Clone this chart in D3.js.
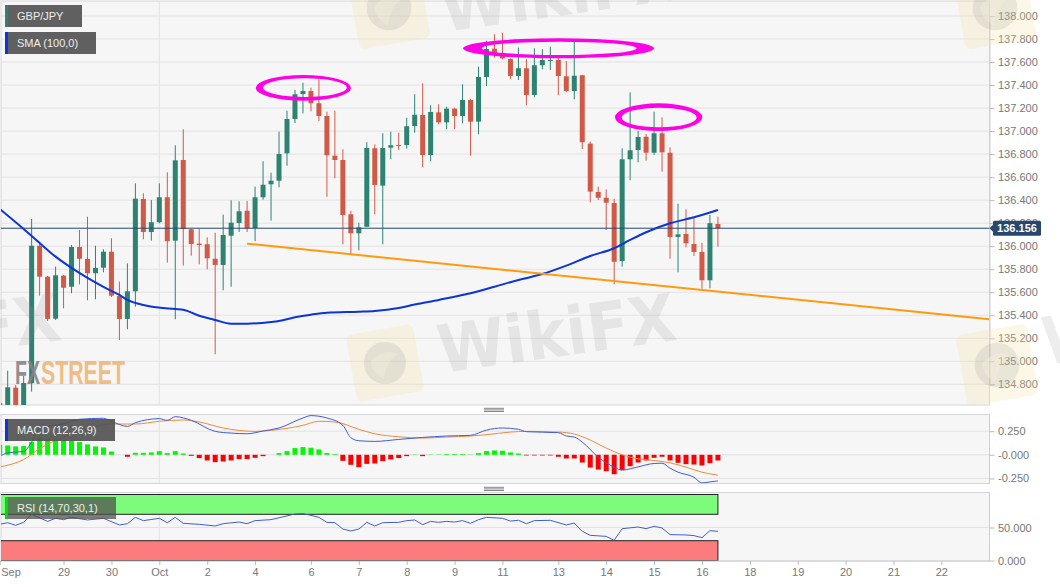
<!DOCTYPE html>
<html><head><meta charset="utf-8">
<script src="https://cdn.jsdelivr.net/npm/d3@7/dist/d3.min.js"></script>
<style>
html,body{margin:0;padding:0;background:#fff}
svg{display:block;font-family:"Liberation Sans",Arial,sans-serif}
</style></head><body><div id="chart"></div>
<script>
// candle colour is derived from open/close; columns are one entry per candle
const opens=[134.638,134.40,134.771,134.45,134.809,136.004,135.735,135.370,135.744,135.648,135.993,135.889,135.765,135.813,135.952,135.567,135.368,135.608,136.41,136.123,136.208,136.425,136.048,136.749,136.147,136.022,136.017,135.891,135.837,136.091,136.202,136.308,136.158,136.425,136.538,136.569,136.807,137.105,137.322,137.348,137.242,137.131,136.786,136.749,136.277,136.112,136.169,136.851,136.526,136.856,136.879,136.879,137.044,137.14,136.792,137.163,137.076,137.195,137.131,137.27,137.082,137.47,137.716,137.655,137.626,137.479,137.546,137.314,137.572,137.612,137.618,137.476,137.348,137.485,136.891,136.471,136.421,136.375,135.871,136.755,136.836,136.951,136.812,136.981,136.812,136.08,136.106,136.019,135.95,135.704,136.193];
const highs=[134.66,134.918,134.794,134.872,136.236,136.039,135.74,135.822,135.75,136.01,136.141,136.256,136.004,135.973,136.069,135.692,135.851,136.546,136.46,136.401,136.546,136.642,136.877,137.016,136.15,136.149,136.077,136.117,136.274,136.399,136.39,136.393,136.517,136.738,136.639,136.995,137.177,137.357,137.42,137.377,137.45,137.169,137.177,136.842,136.308,136.204,136.903,136.884,136.981,136.995,136.986,137.116,137.32,137.415,137.224,137.233,137.212,137.203,137.407,137.28,137.56,137.785,137.841,137.855,137.632,137.725,137.626,137.719,137.711,137.733,137.646,137.609,137.777,137.49,136.908,136.517,136.494,136.413,136.851,137.337,137.001,136.975,137.169,137.12,136.859,136.369,136.321,136.251,136.03,136.271,136.256];
const lows=[134.4,134.3,134.3,134.35,134.736,135.57,135.35,135.359,135.46,135.591,135.669,135.53,135.539,135.773,135.559,135.185,135.278,135.474,136.06,136.048,136.199,135.857,135.365,135.831,135.917,135.843,135.799,135.061,135.617,135.648,136.123,136.123,136.043,136.404,136.222,136.512,136.699,137.07,137.155,137.172,137.088,136.43,136.59,136.017,135.924,135.964,136.167,136.277,136.017,136.755,136.836,136.847,136.986,136.686,136.738,137.059,137.016,137.016,137.068,136.786,136.972,137.392,137.638,137.624,137.45,137.444,137.224,137.294,137.537,137.531,137.311,137.337,137.276,136.844,136.381,136.401,136.141,135.669,135.822,136.573,136.729,136.743,136.792,136.647,135.891,135.773,135.99,135.915,135.631,135.634,135.996];
const closes=[134.5,134.774,134.45,134.811,136.004,135.735,135.368,135.747,135.639,135.993,135.891,135.765,135.811,135.952,135.57,135.368,135.608,136.413,136.123,136.208,136.425,136.043,136.746,136.149,136.019,136.01,135.895,135.837,136.097,136.204,136.303,136.156,136.425,136.534,136.569,136.801,137.105,137.32,137.348,137.242,137.131,136.790,136.749,136.271,136.112,136.164,136.853,136.532,136.853,136.877,136.871,137.042,137.142,136.792,137.166,137.076,137.195,137.131,137.27,137.082,137.47,137.713,137.676,137.632,137.479,137.546,137.314,137.572,137.618,137.618,137.479,137.348,137.481,136.903,136.474,136.421,136.378,135.865,136.755,136.833,136.949,136.812,136.981,136.816,136.08,136.103,136.025,135.95,135.704,136.2,136.156];
const lastPrice=136.156;
const smaIndex=[0,3,5,7,9,11,13,15,16,18,22,23,25,27,29,31,34,35,37,39,41,45,47,50,52,55,59,62,65,68,71,74,77,79,81,84,87,90];
const smaValues=[136.323,136.149,136.028,135.909,135.811,135.724,135.646,135.576,135.533,135.489,135.454,135.448,135.396,135.359,135.327,135.327,135.341,135.35,135.382,135.405,135.422,135.431,135.437,135.463,135.493,135.533,135.591,135.648,135.706,135.758,135.831,135.915,135.982,136.054,136.121,136.199,136.251,136.315];
const trendIndex=[31,124];
const trendValues=[136.022,135.365];
const ringNames=["left","top","right"];
const ringOuterIndex=[[32.08,44.02],[58.05,82.0],[77.1,88.04]];
const ringOuterPrice=[[137.487,137.264],[137.806,137.632],[137.241,137.001]];
const ringInnerIndex=[[32.99,43.5],[60.4,79.8],[77.94,87.34]];
const ringInnerPrice=[[137.459,137.296],[137.777,137.661],[137.203,137.033]];
const priceTicks=[134.8,135,135.2,135.4,135.6,135.8,136,136.2,136.4,136.6,136.8,137,137.2,137.4,137.6,137.8,138];
const macdHist=[.106,.099,.089,.092,.135,.181,.17,.163,.16,.153,.135,.11,.089,.078,.035,0,-.021,.021,.021,.025,.039,.018,.039,.014,-.011,-.035,-.06,-.078,-.071,-.06,-.046,-.046,-.032,-.014,0,.018,.039,.071,.082,.075,.057,.018,.007,-.064,-.106,-.131,-.096,-.092,-.067,-.05,-.035,-.014,.003,-.014,.003,.003,.007,.007,.007,.003,.018,.039,.046,.043,.025,.014,-.007,-.007,-.007,-.007,-.021,-.039,-.039,-.082,-.135,-.156,-.174,-.206,-.16,-.121,-.082,-.06,-.032,-.021,-.06,-.085,-.099,-.103,-.113,-.089,-.06];
const macdIndex=[0,1,3,4,5,8,10,13,14,16,17,20,21,22,24,27,29,31,33,35,38,39,41,43,44,45,47,50,53,56,59,61,63,65,66,70,71,72,73,75,77,78,79,80,82,83,84,85,87,88,89,90];
const macdValues=[-.018,.021,.035,.135,.277,.33,.376,.387,.355,.301,.34,.383,.365,.404,.365,.248,.23,.223,.252,.284,.39,.415,.39,.312,.181,.149,.142,.163,.184,.199,.206,.262,.284,.27,.245,.234,.199,.188,.135,-.025,-.131,-.163,-.149,-.128,-.092,-.089,-.142,-.184,-.238,-.298,-.287,-.277];
const signalIndex=[0,3,5,8,10,13,14,17,20,23,25,28,32,34,38,40,42,45,47,50,53,56,59,61,64,66,70,72,74,76,78,80,82,84,86,88,90];
const signalValues=[-.128,-.05,.064,.188,.248,.319,.326,.326,.355,.369,.348,.284,.248,.259,.312,.355,.348,.27,.223,.191,.177,.188,.199,.213,.241,.248,.241,.22,.156,.071,0,-.043,-.06,-.085,-.131,-.184,-.216];
const macdTicks=[-.25,0,.25];
const macdTickLabels=["-0.250","-0.000","0.250"];
const rsiIndex=[0,1,2,3,4,6,7,8,9,11,13,15,16,17,18,20,21,22,23,25,27,28,30,31,32,34,37,38,39,40,41,42,43,44,45,46,47,48,50,51,52,53,54,55,56,57,58,59,60,61,63,64,65,66,67,69,71,72,73,74,76,77,78,80,81,82,83,84,86,87,88,89,90];
const rsiValues=[54.8,57.3,53.3,57.8,70,59.3,63.9,61.9,65.4,61.4,63.9,53.8,55.8,65.4,60.4,63.9,57.3,65.4,56.3,54.8,52.3,55.8,58.3,55.8,60.4,61.9,70.5,71,68.4,65.4,57.8,57.3,47.7,44.7,47.7,57.8,52.3,57.3,57.8,60.4,61.4,54.3,59.3,57.8,59.3,58.3,60.4,56.3,61.9,65.4,63.9,59.8,60.9,55.8,60.4,60.9,53.8,56.8,44.2,38.1,36.6,30.6,48.2,50.8,48.2,51.8,49.3,39.2,38.7,37.7,34.6,45.2,44.2];
const rsiTicks=[0,50];
const rsiTickLabels=["0.000","50.000"];
const rsiBands=[[70,100],[0,30]];
const dateIndex=[0,8,14,20,26,32,39,45,51,57,63,70,76,82,88,94,100,106,112,118];
const dateLabels=["Sep","29","30","Oct","2","4","6","7","8","9","11","13","14","15","16","18","19","20","21","22"];
const monthLineIndex=[20];
const legendMain=["GBP/JPY","SMA (100,0)"];
const legendMacd="MACD (12,26,9)";
const legendRsi="RSI (14,70,30,1)";

const W=1060,H=587,axisX=989.5;
const GREEN="#2e8370",RED="#d15a47",NAVY="#27476f",GRID="#e2e2e4",PANEL="#f6f6f7",TXT="#777";
const x=d3.scaleLinear().domain([0,124]).range([-0.28,989.24]);
const y=d3.scaleLinear().domain([134.8,138]).range([384.3,16]);
const yM=d3.scaleLinear().domain([-.25,.25]).range([478.4,431.2]);
const yR=d3.scaleLinear().domain([0,100]).range([560.5,494.5]);
const panels=[{id:"p",t:1,b:405},{id:"m",t:414.5,b:483.5},{id:"r",t:492.5,b:561}];

const svg=d3.select("#chart").append("svg").attr("width",W).attr("height",H);
const defs=svg.append("defs");
panels.forEach(p=>{
  defs.append("clipPath").attr("id","clip-"+p.id).append("rect").attr("x",1).attr("y",p.t).attr("width",axisX-1).attr("height",p.b-p.t);
  svg.append("rect").attr("x",1).attr("y",p.t).attr("width",axisX-1).attr("height",p.b-p.t).attr("fill",PANEL).attr("stroke","#d6d6da").attr("stroke-width",1);
});
const layer=id=>svg.append("g").attr("clip-path",`url(#clip-${id})`);
const grid=(g,sc,vals)=>g.selectAll(null).data(vals).join("line").attr("x1",1).attr("x2",axisX).attr("y1",d=>sc(d)).attr("y2",d=>sc(d)).attr("stroke",GRID);
const month=(g,t,b)=>g.selectAll(null).data(monthLineIndex).join("line").attr("x1",d=>x(d)).attr("x2",d=>x(d)).attr("y1",t).attr("y2",b).attr("stroke",GRID);

// main panel
const gP=layer("p");
grid(gP,y,priceTicks);month(gP,1,405);
const rows=opens.map((o,i)=>({i,o,h:highs[i],l:lows[i],c:closes[i],col:closes[i]>=o?GREEN:RED}));
gP.selectAll(".w").data(rows).join("line").attr("x1",d=>x(d.i)).attr("x2",d=>x(d.i)).attr("y1",d=>y(d.h)).attr("y2",d=>y(d.l)).attr("stroke",d=>d.col).attr("stroke-width",1);
gP.selectAll(".b").data(rows).join("rect").attr("x",d=>x(d.i)-2.5).attr("width",5)
  .attr("y",d=>y(Math.max(d.o,d.c))).attr("height",d=>Math.max(1,Math.abs(y(d.o)-y(d.c)))).attr("fill",d=>d.col);
const xy=(ix,vals,sc)=>d3.line().x((d,i)=>x(ix[i])).y(d=>sc(d)).curve(d3.curveMonotoneX)(vals);
gP.append("line").attr("x1",1).attr("x2",axisX).attr("y1",y(lastPrice)).attr("y2",y(lastPrice)).attr("stroke",NAVY).attr("stroke-width",1);
gP.append("path").attr("d",xy(smaIndex,smaValues,y)).attr("fill","none").attr("stroke","#0b35d6").attr("stroke-width",2);
gP.append("path").attr("d",xy(trendIndex,trendValues,y)).attr("fill","none").attr("stroke","#ff9a0e").attr("stroke-width",2);
const ell=(ix,pr)=>{const a=x(ix[0]),b=x(ix[1]),t=y(pr[0]),u=y(pr[1]),rx=(b-a)/2,ry=(u-t)/2,cy=(t+u)/2;
  return `M${a},${cy}A${rx},${ry} 0 1,0 ${b},${cy}A${rx},${ry} 0 1,0 ${a},${cy}Z`;};
gP.selectAll(".ring").data(ringNames).join("path")
  .attr("d",(d,i)=>ell(ringOuterIndex[i],ringOuterPrice[i])+ell(ringInnerIndex[i],ringInnerPrice[i]))
  .attr("fill","#ff00e6").attr("fill-rule","evenodd");

// MACD panel
const gM=layer("m");
grid(gM,yM,[-.25,0,.25]);month(gM,414.5,483.5);
gM.selectAll(".h").data(macdHist).join("rect").attr("x",(d,i)=>x(i)-2.5).attr("width",5)
  .attr("y",d=>yM(Math.max(d,0))).attr("height",d=>Math.abs(yM(d)-yM(0))).attr("fill",d=>d>=0?"#00f800":"#fb0000");
gM.append("path").attr("d",xy(signalIndex,signalValues,yM)).attr("fill","none").attr("stroke","#f08a3c").attr("stroke-width",1);
gM.append("path").attr("d",xy(macdIndex,macdValues,yM)).attr("fill","none").attr("stroke","#3f5fd0").attr("stroke-width",1);

// RSI panel
const gR=layer("r");
grid(gR,yR,[50]);month(gR,492.5,561);
gR.selectAll(".band").data(rsiBands).join("rect").attr("x",0).attr("width",x(90)).attr("y",d=>yR(d[1])).attr("height",d=>yR(d[0])-yR(d[1]))
  .attr("fill",(d,i)=>i?"#fc7b7d":"#7dfb7d").attr("stroke","#222").attr("stroke-width",1);
gR.append("path").attr("d",d3.line().x((d,i)=>x(rsiIndex[i])).y(d=>yR(d))(rsiValues)).attr("fill","none").attr("stroke","#3f5fd0").attr("stroke-width",1);

// axes
function style(g){g.select(".domain").attr("stroke","#cfcfd3");g.selectAll(".tick line").attr("stroke","#bbb");
  g.selectAll("text").attr("fill",TXT).attr("font-size",11).attr("font-family",'"Liberation Sans",Arial,sans-serif');}
const ax=svg.append("g").attr("transform",`translate(${axisX},0)`).call(d3.axisRight(y).tickValues(priceTicks).tickFormat(d3.format(".3f")).tickSize(5).tickPadding(3.5));
style(ax);
svg.append("g").attr("transform",`translate(${axisX},0)`).call(d3.axisRight(yM).tickValues(macdTicks).tickFormat((d,i)=>macdTickLabels[i]).tickSize(5).tickPadding(3.5)).call(style).select(".domain").attr("d",`M0,414.5V483.5`);
svg.append("g").attr("transform",`translate(${axisX},0)`).call(d3.axisRight(yR).tickValues(rsiTicks).tickFormat((d,i)=>rsiTickLabels[i]).tickSize(5).tickPadding(3.5)).call(style).select(".domain").attr("d",`M0,492.5V561`);
const ax2=svg.append("g").attr("transform","translate(0,561)").call(d3.axisBottom(x).tickValues(dateIndex).tickFormat((d,i)=>dateLabels[i]).tickSize(4).tickPadding(3));
style(ax2);ax2.select(".domain").attr("d","M0,0H"+axisX);
ax2.selectAll(".tick text").attr("font-size",11).filter((d,i)=>i===0).attr("text-anchor","start").attr("x",1);

// last-price tag
const ly=y(lastPrice);
svg.append("path").attr("d",`M989.5,${ly}l3.5,-3.5v7z`).attr("fill",NAVY);
svg.append("rect").attr("x",993).attr("y",ly-7.5).attr("width",48).attr("height",15).attr("rx",1.5).attr("fill",NAVY);
svg.append("text").attr("x",1017).attr("y",ly+4).attr("text-anchor","middle").attr("fill","#fff").attr("font-size",11).attr("font-weight","bold").text(d3.format(".3f")(lastPrice));

// handles
[[408,"a"],[487,"b"]].forEach(([t])=>{[0,1.6,3.2].forEach(o=>svg.append("line").attr("x1",484).attr("x2",504).attr("y1",t+o+.3).attr("y2",t+o+.3).attr("stroke","#777").attr("stroke-width",.9));});

// watermarks
const wm=svg.append("g").attr("pointer-events","none");
function logo(cx,cy,s){const g=wm.append("g").attr("transform",`translate(${cx},${cy}) rotate(-10)`);
  g.append("rect").attr("x",-s/2).attr("y",-s/2).attr("width",s).attr("height",s).attr("rx",6).attr("fill","#f3e2a0").attr("opacity",.26);
  g.append("circle").attr("r",s*.31).attr("fill","#8c8c8c").attr("opacity",.17);
  g.append("path").attr("d",`M${-s*.2},${-s*.06}Q0,${-s*.22} ${s*.22},${-s*.1}Q${s*.02},${-s*.03} ${-s*.06},${s*.24}Q${-s*.22},${s*.1} ${-s*.2},${-s*.06}Z`).attr("fill","#f5f1dc").attr("opacity",.4);
}
logo(385,363,68);logo(389,8,72);logo(995,8,72);logo(997,365,72);
function mark(t,xp,yp,size,len){wm.append("text").attr("transform",`translate(${xp},${yp}) rotate(-8)`).attr("font-family",'"DejaVu Sans",sans-serif').attr("font-weight","bold").attr("font-size",size).attr("fill","#8a8a8a").attr("opacity",.15).attr("textLength",len).attr("lengthAdjust","spacingAndGlyphs").text(t);}
mark("WikiFX",441,373,66,240);mark("WikiFX",444,32,66,240);mark("FX",-24,352,66,88);mark("W",1046,365,66,62);
wm.append("text").attr("x",15).attr("y",384).attr("font-family",'"Liberation Sans Narrow","Liberation Sans",sans-serif').attr("font-weight","bold").attr("font-size",33).attr("fill","#85858a").attr("opacity",.9).attr("textLength",25).attr("lengthAdjust","spacingAndGlyphs").text("FX");
wm.append("text").attr("x",41).attr("y",384).attr("font-family",'"Liberation Sans Narrow","Liberation Sans",sans-serif').attr("font-weight","bold").attr("font-size",33).attr("fill","#eebb80").attr("opacity",.95).attr("textLength",84).attr("lengthAdjust","spacingAndGlyphs").text("STREET");

// legends
function legend(label,top,w,col,op){
  svg.append("rect").attr("x",5).attr("y",top).attr("width",w).attr("height",22).attr("fill","#505050").attr("opacity",op);
  svg.append("rect").attr("x",5).attr("y",top).attr("width",3).attr("height",22).attr("fill",col);
  svg.append("text").attr("x",17).attr("y",top+15).attr("fill","#eee").attr("font-size",11).text(label);
}
legend(legendMain[0],5,77,GREEN,.9);
legend(legendMain[1],32,91,"#0b35d6",.9);
legend(legendMacd,419,110,"#0b35d6",.9);
legend(legendRsi,497,111,"#00e000",.75);
</script></body></html>
